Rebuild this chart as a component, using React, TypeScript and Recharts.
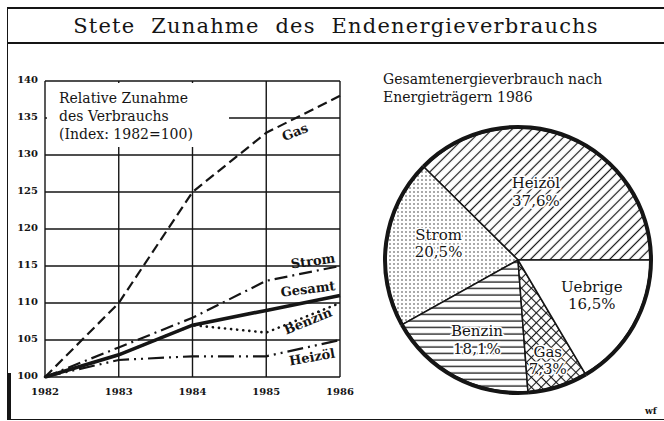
import React from "react";
import { LineChart, Line, XAxis, YAxis, CartesianGrid, PieChart, Pie, Cell } from "recharts";

// Index 1982 = 100
const years = [1982, 1983, 1984, 1985, 1986];
const gas = [100, 110, 125, 133, 138];
const strom = [100, 104, 108, 113, 115];
const gesamt = [100, 103, 107, 109, 111];
const benzin = [100, 103, 107, 106, 110];
const heizoel = [100, 102.3, 102.8, 102.8, 105];
const yTicks = [100, 105, 110, 115, 120, 125, 130, 135, 140];

// Anteile 1986
const shareNames = ["Heizöl", "Strom", "Benzin", "Gas", "Uebrige"];
const shareValues = [37.6, 20.5, 18.1, 7.3, 16.5];

const lineData = years.map((year, i) => ({
  year,
  gas: gas[i],
  strom: strom[i],
  gesamt: gesamt[i],
  benzin: benzin[i],
  heizoel: heizoel[i],
}));
const pieData = shareNames.map((name, i) => ({ name, value: shareValues[i] }));

const ink = "#151515";
const serif = '"DejaVu Serif", serif';
const fills = ["url(#hatch)", "url(#dots)", "url(#hlines)", "url(#cross)", "#fff"];
const labelRadius = [70, 81, 90, 105, 82];
const labelTurn = [7.5, -3.7, 1.1, -1, 3.8];
const RADIAN = Math.PI / 180;

const tickStyle = { fontFamily: serif, fontSize: 10, fontWeight: 700, fill: ink };

const lineNotes = [
  { text: "Gas", x: 295, y: 132, rot: -22 },
  { text: "Strom", x: 313, y: 261, rot: -8 },
  { text: "Gesamt", x: 308, y: 289, rot: -7 },
  { text: "Benzin", x: 308, y: 321, rot: -22 },
  { text: "Heizöl", x: 312, y: 357, rot: -10 },
];

function PieLabel(props: any) {
  const { cx, cy, midAngle, index, name, value } = props;
  const a = (midAngle + labelTurn[index]) * RADIAN;
  const x = cx + labelRadius[index] * Math.cos(a);
  const y = cy - labelRadius[index] * Math.sin(a);
  return (
    <text
      x={x}
      y={y}
      textAnchor="middle"
      fontFamily={serif}
      fontSize={15}
      fill={ink}
      stroke="#fff"
      strokeWidth={3}
      paintOrder="stroke"
    >
      <tspan x={x} dy={-4}>{name}</tspan>
      <tspan x={x} dy={17.5}>{value.toFixed(1).replace(".", ",")}%</tspan>
    </text>
  );
}

export default function App() {
  return (
    <div style={{ position: "absolute", left: 0, top: 0, width: 664, height: 421, overflow: "hidden", background: "#fff", fontFamily: serif, color: ink }}>
      <svg width={0} height={0} style={{ position: "absolute" }}>
        <defs>
          <pattern id="hatch" width={7} height={7} patternUnits="userSpaceOnUse" patternTransform="rotate(45)">
            <rect width={7} height={7} fill="#fff" />
            <line x1={3.5} y1={0} x2={3.5} y2={7} stroke={ink} strokeWidth={1.2} />
          </pattern>
          <pattern id="dots" width={4} height={4} patternUnits="userSpaceOnUse">
            <rect width={4} height={4} fill="#fff" />
            <circle cx={2} cy={2} r={0.7} fill={ink} />
          </pattern>
          <pattern id="hlines" width={8} height={6.5} patternUnits="userSpaceOnUse">
            <rect width={8} height={6.5} fill="#fff" />
            <line x1={0} y1={3} x2={8} y2={3} stroke={ink} strokeWidth={1.3} />
          </pattern>
          <pattern id="cross" width={7} height={7} patternUnits="userSpaceOnUse" patternTransform="rotate(45)">
            <rect width={7} height={7} fill="#fff" />
            <line x1={3.5} y1={0} x2={3.5} y2={7} stroke={ink} strokeWidth={1.1} />
            <line x1={0} y1={3.5} x2={7} y2={3.5} stroke={ink} strokeWidth={1.1} />
          </pattern>
        </defs>
      </svg>

      {/* frame */}
      <div style={{ position: "absolute", left: 7, top: 7, width: 680, height: 410, borderTop: `2px solid ${ink}`, borderLeft: `1.5px solid ${ink}`, borderBottom: `1.5px solid ${ink}` }} />
      <div style={{ position: "absolute", left: 7, top: 42, width: 680, height: 0, borderTop: `2px solid ${ink}` }} />
      <div style={{ position: "absolute", left: 8, top: 373, width: 3, height: 46, background: ink }} />
      <div style={{ position: "absolute", left: 8, top: 9, width: 656, height: 33, display: "flex", alignItems: "center", justifyContent: "center", fontSize: 21, letterSpacing: 1.2, wordSpacing: 8 }}>
        Stete Zunahme des Endenergieverbrauchs
      </div>

      {/* Liniendiagramm */}
      <div style={{ position: "absolute", left: 0, top: 0 }}>
        <LineChart width={360} height={421} data={lineData} margin={{ top: 81, right: 20, bottom: 14, left: 10 }}>
          <CartesianGrid stroke={ink} strokeWidth={1.4} />
          <XAxis
            dataKey="year"
            type="number"
            domain={[1982, 1986]}
            ticks={years}
            height={30}
            axisLine={false}
            tickLine={false}
            tickSize={0}
            tickMargin={11}
            tick={tickStyle}
          />
          <YAxis
            type="number"
            domain={[100, 140]}
            ticks={yTicks}
            width={35}
            axisLine={false}
            tickLine={false}
            tickSize={0}
            tickMargin={7}
            tick={{ ...tickStyle, dy: -2 }}
          />
          <Line dataKey="gas" type="linear" stroke={ink} strokeWidth={2.2} strokeDasharray="10 5" dot={false} isAnimationActive={false} />
          <Line dataKey="strom" type="linear" stroke={ink} strokeWidth={2.2} strokeDasharray="13 5 2 5" dot={false} isAnimationActive={false} />
          <Line dataKey="heizoel" type="linear" stroke={ink} strokeWidth={2.2} strokeDasharray="16 5 2 5 2 5" dot={false} isAnimationActive={false} />
          <Line dataKey="benzin" type="linear" stroke={ink} strokeWidth={2.6} strokeDasharray="0.1 6" strokeLinecap="round" dot={false} isAnimationActive={false} />
          <Line dataKey="gesamt" type="linear" stroke={ink} strokeWidth={3.6} dot={false} isAnimationActive={false} />
        </LineChart>
      </div>

      <div style={{ position: "absolute", left: 47, top: 83, width: 182, height: 64, background: "#fff" }} />
      <div style={{ position: "absolute", left: 59, top: 89, fontSize: 14, lineHeight: "18px" }}>
        Relative Zunahme
        <br />
        des Verbrauchs
        <br />
        (Index: 1982=100)
      </div>

      {lineNotes.map((n) => (
        <div
          key={n.text}
          style={{
            position: "absolute",
            left: n.x,
            top: n.y,
            transform: `translate(-50%, -50%) rotate(${n.rot}deg)`,
            fontSize: 13,
            fontWeight: 700,
            whiteSpace: "nowrap",
          }}
        >
          {n.text}
        </div>
      ))}

      {/* Kreisdiagramm */}
      <div style={{ position: "absolute", left: 383, top: 70, fontSize: 14, lineHeight: "18px" }}>
        Gesamtenergieverbrauch nach
        <br />
        Energieträgern 1986
      </div>
      <div style={{ position: "absolute", left: 368, top: 110 }}>
        <PieChart width={300} height={300}>
          <Pie
            data={pieData}
            dataKey="value"
            nameKey="name"
            cx="50%"
            cy="50%"
            outerRadius={132}
            startAngle={0}
            endAngle={360}
            stroke={ink}
            strokeWidth={1.5}
            label={PieLabel}
            labelLine={false}
            isAnimationActive={false}
          >
            {pieData.map((d, i) => (
              <Cell key={d.name} fill={fills[i]} />
            ))}
          </Pie>
          <Pie
            data={pieData}
            dataKey="value"
            cx="50%"
            cy="50%"
            innerRadius={131}
            outerRadius={135}
            startAngle={0}
            endAngle={360}
            fill={ink}
            stroke="none"
            isAnimationActive={false}
          />
        </PieChart>
      </div>

      <div style={{ position: "absolute", left: 645, top: 406, fontSize: 9, fontWeight: 700 }}>wf</div>
    </div>
  );
}
